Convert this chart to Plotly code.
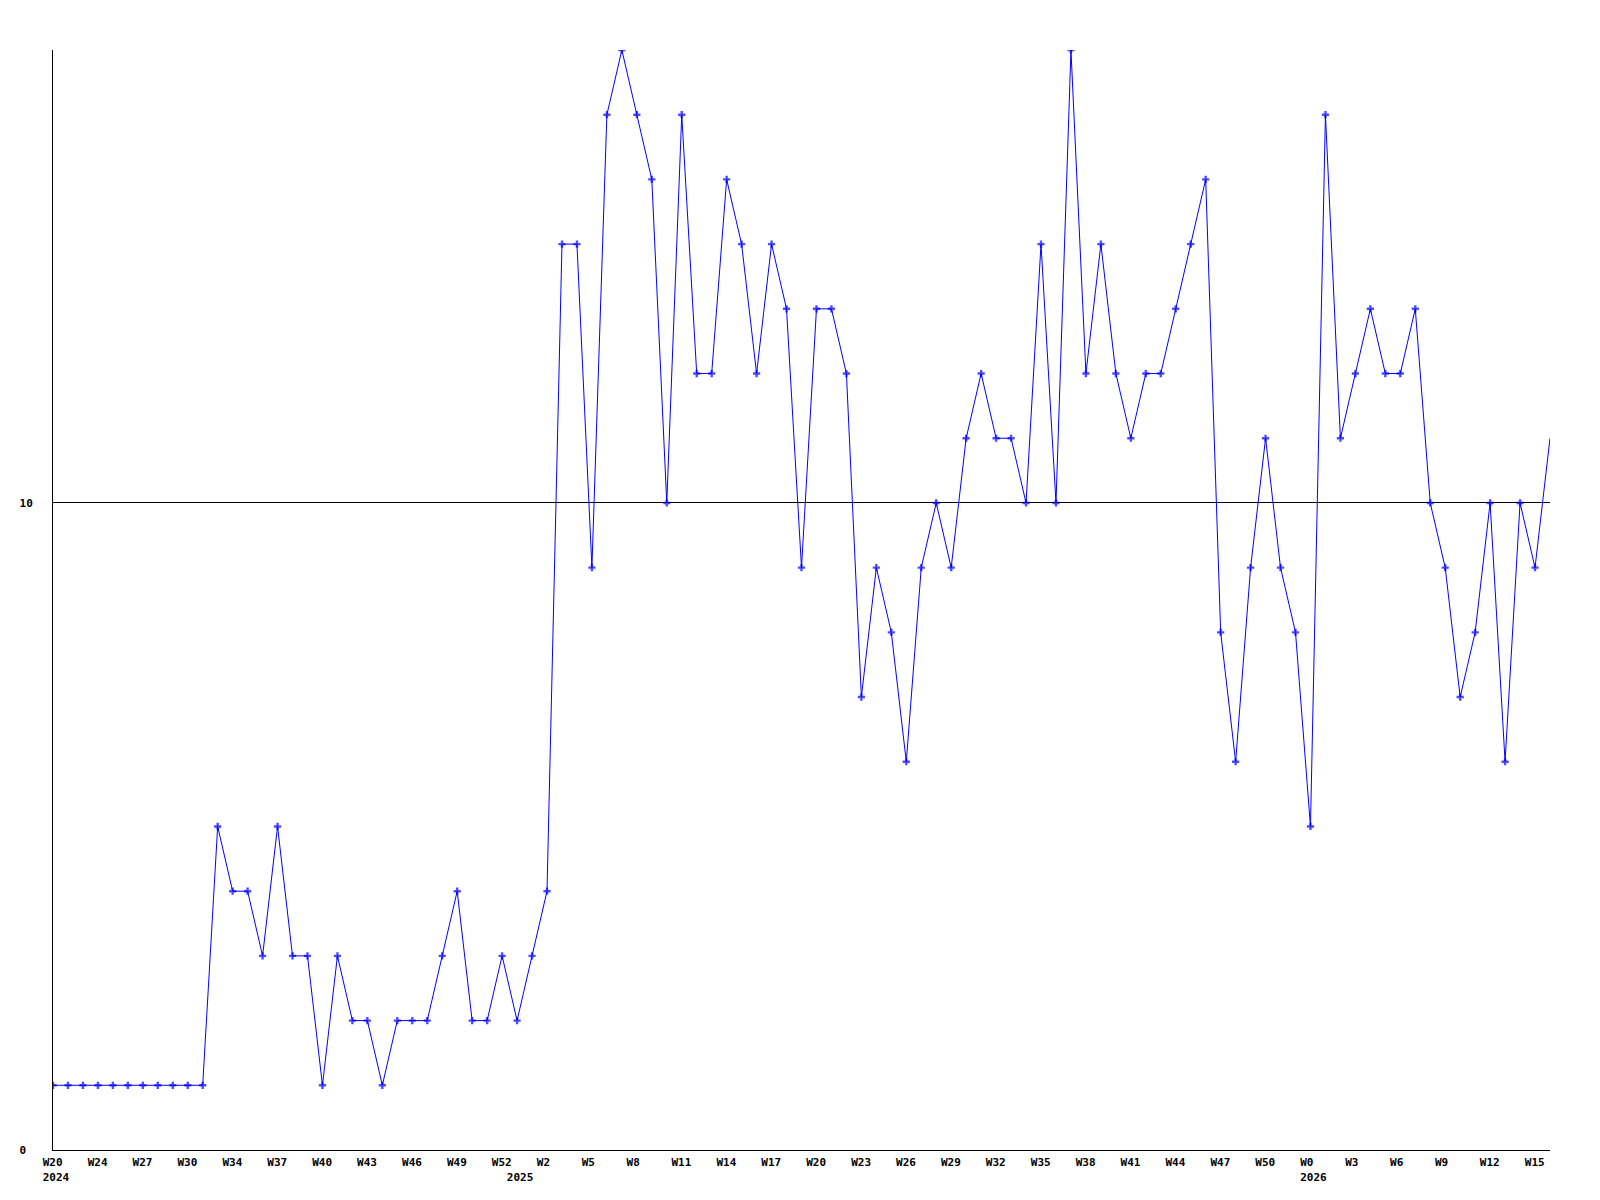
import plotly.graph_objects as go

# Weekly values (101 points, one per week, starting W20 2024)
values = [
    1, 1, 1, 1, 1, 1, 1, 1, 1, 1,
    1, 5, 4, 4, 3, 5, 3, 3, 1, 3,
    2, 2, 1, 2, 2, 2, 3, 4, 2, 2,
    3, 2, 3, 4, 14, 14, 9, 16, 17, 16,
    15, 10, 16, 12, 12, 15, 14, 12, 14, 13,
    9, 13, 13, 12, 7, 9, 8, 6, 9, 10,
    9, 11, 12, 11, 11, 10, 14, 10, 17, 12,
    14, 12, 11, 12, 12, 13, 14, 15, 8, 6,
    9, 11, 9, 8, 5, 16, 11, 12, 13, 12,
    12, 13, 10, 9, 7, 8, 10, 6, 10, 9,
    11,
]

# Tick labels, one every third point
week_labels = ["W20", "W24", "W27", "W30", "W34", "W37", "W40", "W43", "W46", "W49",
               "W52", "W2", "W5", "W8", "W11", "W14", "W17", "W20", "W23", "W26",
               "W29", "W32", "W35", "W38", "W41", "W44", "W47", "W50", "W0", "W3",
               "W6", "W9", "W12", "W15"]
tick_step = 3
# Year labels: (point index, year)
year_marks = {0: "2024", 31: "2025", 84: "2026"}

x = list(range(len(values)))

NB = "\u00a0"
tickvals = []
ticktext = []
for k, w in enumerate(week_labels):
    i = k * tick_step
    tickvals.append(i)
    txt = w + NB * (4 - len(w))
    if i in year_marks:
        txt += "<br>" + year_marks[i]
    ticktext.append(txt)
for i, yr in year_marks.items():
    if i not in tickvals:
        tickvals.append(i)
        ticktext.append(NB * 4 + "<br>" + yr)

marker_sizes = [6] * (len(values) - 1) + [0]

fig = go.Figure()
fig.add_trace(go.Scatter(
    x=x, y=values, mode="lines+markers",
    line=dict(color="#0000ff", width=1),
    marker=dict(symbol="cross", size=marker_sizes, color="#0000ff", line=dict(width=0)),
    showlegend=False, hoverinfo="skip",
))

font = dict(family="DejaVu Sans Mono", size=11, color="black", weight="bold")

fig.update_layout(
    width=1600, height=1200,
    margin=dict(l=42, r=58, t=42, b=58),
    paper_bgcolor="white", plot_bgcolor="white",
    xaxis=dict(
        range=[0, len(values) - 1],
        tickmode="array", tickvals=tickvals, ticktext=ticktext,
        showgrid=False, zeroline=False,
        showline=True, linecolor="black", linewidth=1,
        ticks="", tickfont=font, ticklabelshift=3, ticklabelstandoff=2,
        tickangle=0,
    ),
    yaxis=dict(
        range=[0, 17],
        tickmode="array", tickvals=[0, 10], ticktext=["0" + NB, "10"],
        showgrid=True, gridcolor="black", gridwidth=1,
        zeroline=False,
        showline=True, linecolor="black", linewidth=1,
        ticks="", tickfont=font, ticklabelstandoff=17,
    ),
)

fig.write_html("out.html")
